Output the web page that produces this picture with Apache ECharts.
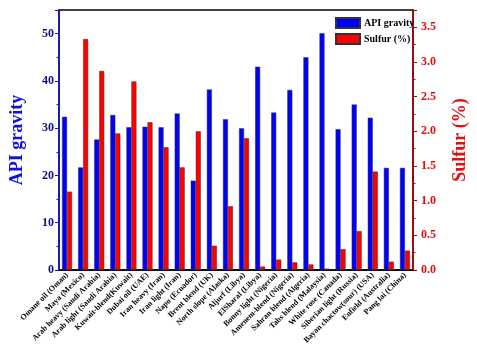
<!DOCTYPE html>
<html><head><meta charset="utf-8">
<script src="https://cdn.jsdelivr.net/npm/echarts@6/dist/echarts.min.js"></script>
<style>html,body{margin:0;padding:0;background:#fff}#c{width:477px;height:350px}</style>
</head><body><div id="c"></div>
<script>
const categories = ["Omane oil (Oman)","Maya (Mexico)","Arab heavy (Saudi Arabia)","Arab light (Saudi Arabia)","Kuwait-blend(Kuwait)","Dubai oil (UAE)","Iran heavy (Iran)","Iran light (Iran)","Napo (Ecuador)","Brent blend (UK)","North slope (Alaska)","Aljurf (Libya)","ElSharal (Libya)","Bonny light (Nigeria)","Amenem-blend (Nigeria)","Sahran blend (Algeria)","Tabs blend (Malaysia)","White rose (Canada)","Siberian light (Russia)","Bayan chactow(sour) (USA)","Enfield (Australia)","Pang lai (China)"];
const apiGravity = [32.4,21.7,27.6,32.8,30.2,30.3,30.2,33.1,18.9,38.2,31.9,30.0,43.0,33.3,38.1,45.0,50.1,29.8,35.0,32.2,21.6,21.6];
const sulfur = [1.13,3.33,2.87,1.97,2.72,2.13,1.77,1.48,2.00,0.35,0.92,1.90,0.05,0.15,0.11,0.08,0.02,0.30,0.56,1.42,0.12,0.28];
const leftTicks = {min:0,max:55,interval:10};
const rightTicks = {min:0,max:3.75,interval:0.5};

const font = '"Liberation Serif","DejaVu Serif",serif';
const chart = echarts.init(document.getElementById('c'));
chart.setOption({
  animation:false,
  grid:{left:52,right:56,top:10,bottom:80,show:true,borderColor:'#000',borderWidth:1.5},
  legend:{
    top:12,left:330,orient:'vertical',itemWidth:24,itemHeight:10,itemGap:4,icon:'rect',
    textStyle:{fontFamily:font,fontWeight:'bold',fontSize:10,color:'#000',padding:[0,0,0,-1]},
    data:['API gravity','Sulfur (%)']
  },
  xAxis:{
    type:'category',data:categories,
    axisLine:{lineStyle:{color:'#000',width:1.5}},
    axisTick:{alignWithLabel:true,length:3,lineStyle:{color:'#000'}},
    axisLabel:{rotate:45,interval:0,fontFamily:font,fontWeight:'bold',fontSize:8,color:'#000',margin:4}
  },
  yAxis:[{
    type:'value',min:leftTicks.min,max:leftTicks.max,interval:leftTicks.interval,
    name:'API gravity',nameLocation:'middle',nameGap:33,
    nameTextStyle:{fontFamily:font,fontWeight:'bold',fontSize:18,color:'#1010e0'},
    axisLine:{show:true,lineStyle:{color:'#1010d0',width:1.5}},
    axisTick:{show:true,length:4,lineStyle:{color:'#1010d0'}},
    minorTick:{show:true,splitNumber:2,length:2.5,lineStyle:{color:'#1010d0'}},
    splitLine:{show:false},
    axisLabel:{showMaxLabel:false,fontFamily:font,fontWeight:'bold',fontSize:12,color:'#101080',margin:5}
  },{
    type:'value',min:rightTicks.min,max:rightTicks.max,interval:rightTicks.interval,position:'right',
    name:'Sulfur (%)',nameLocation:'middle',nameGap:38,nameRotate:90,
    nameTextStyle:{fontFamily:font,fontWeight:'bold',fontSize:18,color:'#e01010'},
    axisLine:{show:true,lineStyle:{color:'#b00000',width:1.5}},
    axisTick:{show:true,length:4,lineStyle:{color:'#b00000'}},
    minorTick:{show:true,splitNumber:2,length:2.5,lineStyle:{color:'#b00000'}},
    splitLine:{show:false},
    axisLabel:{showMaxLabel:false,fontFamily:font,fontWeight:'bold',fontSize:12,color:'#e01010',margin:8,
      formatter:v=>v.toFixed(1)}
  }],
  series:[{
    name:'API gravity',type:'bar',yAxisIndex:0,data:apiGravity,barWidth:5,barGap:'0%',
    itemStyle:{color:'#0000ff',borderColor:'#333',borderWidth:0.5}
  },{
    name:'Sulfur (%)',type:'bar',yAxisIndex:1,data:sulfur,barWidth:5,
    itemStyle:{color:'#ff0000',borderColor:'#333',borderWidth:0.5}
  }]
});
</script></body></html>
